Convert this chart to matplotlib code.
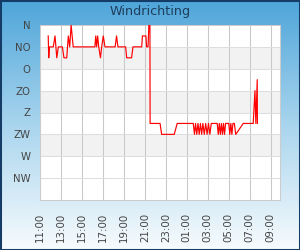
"""Windrichting over the last day, drawn as a step-like red line."""

import matplotlib

matplotlib.use("Agg")
import matplotlib.pyplot as plt
import numpy as np
from matplotlib.colors import LinearSegmentedColormap
from matplotlib.patches import Rectangle

# readings: clock time (wraps past midnight) and direction in degrees
times = [
    "11:47", "11:50", "11:54", "12:16", "12:26", "12:36", "12:45", "13:08",
    "13:17", "13:33", "13:42", "13:50", "13:58", "14:10", "16:14", "16:19",
    "16:24", "16:30", "16:36", "16:46", "16:53", "17:02", "17:12", "18:10",
    "18:18", "18:26", "19:10", "19:16", "19:44", "19:52", "20:42", "20:46",
    "21:06", "21:10", "21:18", "21:23", "21:29", "21:30", "22:27", "22:36",
    "23:48", "00:05", "01:37", "01:44", "01:50", "01:57", "02:04", "02:11",
    "02:18", "02:25", "02:32", "02:40", "02:48", "02:56", "03:04", "03:12",
    "03:20", "03:54", "04:00", "04:06", "04:12", "04:18", "04:24", "04:30",
    "04:36", "04:42", "05:00", "05:06", "05:12", "05:18", "05:24", "05:32",
    "05:40", "06:23", "07:20", "07:30", "07:35", "07:43", "07:44",
]
degrees = [
    22.5, 67.5, 45, 45, 22.5, 67.5, 45, 45,
    67.5, 67.5, 22.5, 45, 0, 45, 45, 22.5,
    45, 22.5, 45, 67.5, 45, 22.5, 45, 45,
    22.5, 45, 45, 67.5, 67.5, 45, 45, 22.5,
    22.5, 45, 45, 0, 0, 202.5, 202.5, 225,
    225, 202.5, 202.5, 225, 202.5, 225, 202.5, 225,
    202.5, 225, 202.5, 225, 202.5, 225, 202.5, 225,
    202.5, 202.5, 225, 202.5, 225, 202.5, 225, 202.5,
    225, 202.5, 202.5, 225, 202.5, 225, 202.5, 202.5,
    225, 202.5, 202.5, 135, 202.5, 112.5, 202.5,
]
direction_labels = ["N", "NO", "O", "ZO", "Z", "ZW", "W", "NW"]
direction_ticks = [0, 45, 90, 135, 180, 225, 270, 315]
hour_ticks = [11, 13, 15, 17, 19, 21, 23, 25, 27, 29, 31, 33]


def to_hours(stamps):
    hours = []
    offset = 0.0
    previous = None
    for stamp in stamps:
        hh, mm = stamp.split(":")
        value = int(hh) + int(mm) / 60 + offset
        if previous is not None and value < previous:
            offset += 24
            value += 24
        hours.append(value)
        previous = value
    return hours


fig = plt.figure(figsize=(3.0, 2.5), dpi=100)

# blue to white background
bg = fig.add_axes([0, 0, 1, 1], zorder=-10)
cmap = LinearSegmentedColormap.from_list("bg", ["#4ea5d9", "#a9d5ee", "#f7fbfd"])
bg.imshow(np.linspace(0, 1, 256).reshape(-1, 1), aspect="auto", cmap=cmap, extent=(0, 1, 0, 1))
bg.set_axis_off()
fig.patches.append(Rectangle((0, 0), 1, 1, transform=fig.transFigure, fill=False,
                             edgecolor="#143c66", linewidth=2.2))

ax = fig.add_axes([40 / 300, 0.2, 0.8, 0.7])
ax.set_facecolor("white")
for low in (45, 135, 225):
    ax.axhspan(low, low + 45, color="#f2f2f2", zorder=0, linewidth=0)

ax.plot(to_hours(times), degrees, color="#ff0000", linewidth=0.85, zorder=3)

ax.set_xlim(11.0, 11 + 240 / 10.486)
ax.set_ylim(360, 0)
ax.set_yticks(direction_ticks)
ax.set_yticklabels(direction_labels)
ax.set_xticks(hour_ticks)
ax.set_xticklabels([f"{h % 24:02d}:00" for h in hour_ticks], rotation=90)
ax.tick_params(axis="y", length=0, pad=7, labelsize=7.3, labelcolor="#444444")
ax.tick_params(axis="x", length=0, pad=9, labelsize=7.4, labelcolor="#444444")

ax.set_axisbelow(True)
ax.grid(True, axis="y", color="#dedede", linewidth=0.75)
ax.grid(True, axis="x", color="#c8c8c8", linewidth=0.75)
for spine in ax.spines.values():
    spine.set_color("#cccccc")
    spine.set_linewidth(0.75)

fig.text(0.5, 1 - 12 / 250, "Windrichting", ha="center", va="center",
         fontsize=9.2, color="#1e3d5c")

fig.savefig("out.png", dpi=100)
